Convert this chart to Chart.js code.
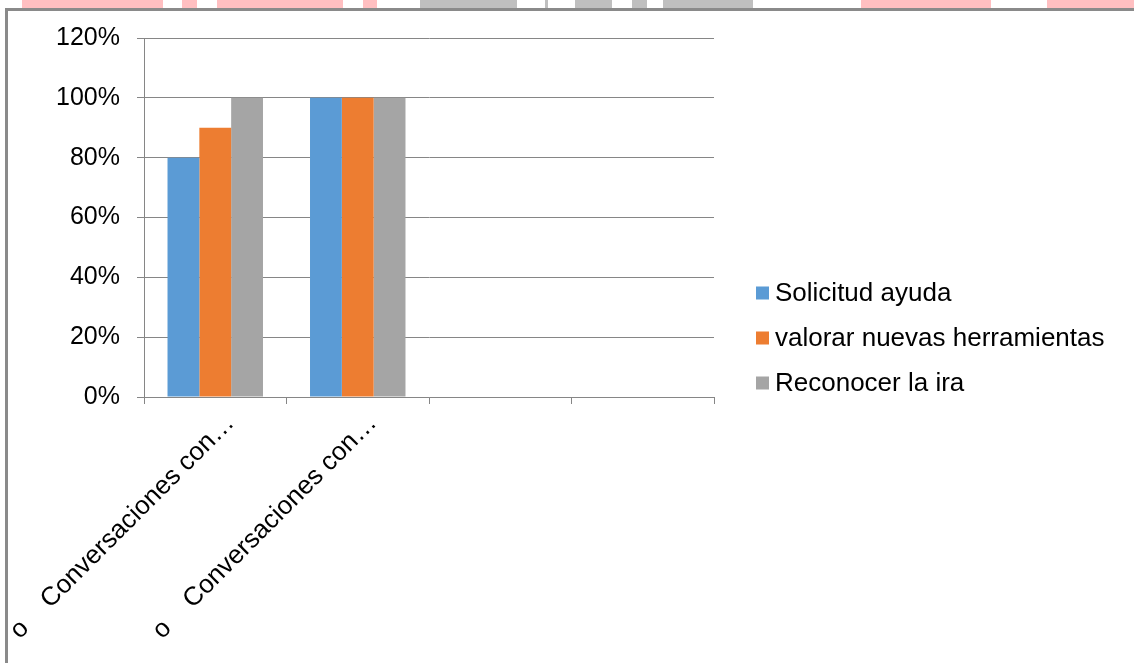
<!DOCTYPE html>
<html>
<head>
<meta charset="utf-8">
<script src="https://cdn.jsdelivr.net/npm/chart.js@4"></script>
<style>
  html, body { margin: 0; padding: 0; background: #fff; overflow: hidden; }
  body { width: 1134px; height: 663px; position: relative; }
  .strip { position: absolute; top: 0; height: 8px; }
  #frame { position: absolute; left: 5px; top: 8px; width: 1200px; height: 700px;
           border-left: 3px solid #8a8a8a; border-top: 3px solid #8a8a8a; }
  #box { position: absolute; left: 9px; top: 11px; width: 1112px; height: 650px; }
</style>
</head>
<body>
<div id="frame"></div>
<div id="box"><canvas id="chart"></canvas></div>
<script>
const categories = ['o    Conversaciones con\u2026', 'o    Conversaciones con\u2026', '', ''];
const seriesNames = ['Solicitud ayuda', 'valorar nuevas herramientas', 'Reconocer la ira'];
const solicitudAyuda = [80, 100, null, null];
const valorarHerramientas = [90, 100, null, null];
const reconocerIra = [100, 100, null, null];
const yTicks = [0, 20, 40, 60, 80, 100, 120];
const colors = ['#5B9BD5', '#ED7D31', '#A5A5A5'];

// page header decoration (strip above the chart frame)
const stripPink = [[22, 141], [182, 15], [217, 126], [363, 14], [861, 130], [1047, 90]];
const stripGray = [[420, 97], [545, 3], [575, 37], [632, 15], [663, 90]];
const addStrip = (list, color) => {
  list.forEach(([x, w]) => {
    const d = document.createElement('div');
    d.className = 'strip';
    d.style.left = x + 'px';
    d.style.width = w + 'px';
    d.style.background = color;
    document.body.appendChild(d);
  });
};
addStrip(stripPink, '#FFBFC1');
addStrip(stripGray, '#BFBFBF');

const family = "'Liberation Sans', Arial, sans-serif";
const gridColor = '#868686';

// legend drawn to the right of the plot (the built-in one gets clipped to a quarter of the width)
const sideLegend = {
  id: 'sideLegend',
  afterDraw(chart) {
    const { ctx, chartArea } = chart;
    const x = chartArea.right + 42;
    ctx.save();
    ctx.font = '26px ' + family;
    ctx.textBaseline = 'middle';
    ctx.textAlign = 'left';
    chart.data.datasets.forEach((ds, i) => {
      const cy = 282 + i * 45;
      ctx.fillStyle = ds.backgroundColor;
      ctx.fillRect(x, cy - 6.5, 13, 13);
      ctx.fillStyle = '#000';
      ctx.fillText(ds.label, x + 19, cy + 1);
    });
    ctx.restore();
  }
};

new Chart(document.getElementById('chart'), {
  type: 'bar',
  data: {
    labels: categories,
    datasets: [solicitudAyuda, valorarHerramientas, reconocerIra].map((data, i) => ({
      label: seriesNames[i],
      data,
      backgroundColor: colors[i],
      categoryPercentage: 0.67,
      barPercentage: 1.0
    }))
  },
  plugins: [sideLegend],
  options: {
    responsive: true,
    maintainAspectRatio: false,
    animation: false,
    layout: { padding: { top: 27, left: 0, right: 407, bottom: 0 } },
    plugins: {
      legend: { display: false },
      tooltip: { enabled: false }
    },
    scales: {
      x: {
        afterFit: (s) => { s.height = 264; s.paddingLeft = 0; s.paddingRight = 0; },
        grid: { display: true, drawOnChartArea: false, offset: true, color: gridColor, tickLength: 7 },
        border: { display: true, color: gridColor },
        ticks: {
          autoSkip: false,
          maxRotation: 45,
          minRotation: 45,
          labelOffset: 15,
          padding: 4,
          color: '#000',
          font: { family, size: 26 }
        }
      },
      y: {
        min: 0,
        max: 120,
        afterFit: (s) => { s.width = 135; s.paddingTop = 0; s.paddingBottom = 0; },
        afterBuildTicks: (s) => { s.ticks = yTicks.map((v) => ({ value: v })); },
        grid: { color: gridColor, tickLength: 7 },
        border: { display: true, color: gridColor },
        ticks: {
          color: '#000',
          padding: 17,
          font: { family, size: 25 },
          callback: (v) => v + '%'
        }
      }
    }
  }
});
</script>
</body>
</html>
